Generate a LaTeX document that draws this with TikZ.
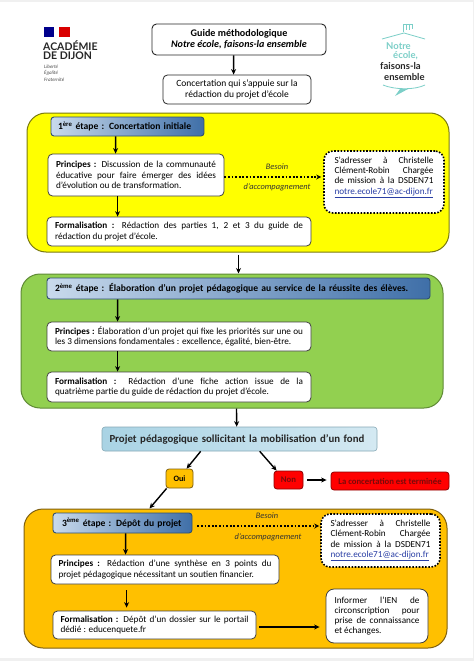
\documentclass[tikz,border=0pt]{standalone}
\usepackage{fontspec}
\setmainfont{Carlito}
\newfontfamily\logofont{Lato}
\usetikzlibrary{arrows.meta}
\hyphenpenalty=10000
\definecolor{yelP}{HTML}{FFFF00}
\definecolor{yelE}{HTML}{7A7A10}
\definecolor{grnP}{HTML}{92D050}
\definecolor{grnE}{HTML}{5F8A35}
\definecolor{orgP}{HTML}{FFC000}
\definecolor{orgE}{HTML}{7F6010}
\definecolor{hdE}{HTML}{2F4F70}
\definecolor{hdL}{HTML}{C9DAEC}
\definecolor{hdR}{HTML}{3F6FA8}
\definecolor{skyL}{HTML}{D4E9F2}
\definecolor{skyR}{HTML}{A9D3E4}
\definecolor{redF}{HTML}{FF0000}
\definecolor{redT}{HTML}{7A0A0A}
\definecolor{teal1}{HTML}{7CCFC8}
\definecolor{linkc}{HTML}{2A3FA5}
\definecolor{edgeg}{HTML}{F0F0F0}
\newcommand{\bx}[7]{%
  \pgfmathsetmacro\bxcx{(#2+#4)/2}%
  \pgfmathsetmacro\bxcy{(#3+#5)/2}%
  \pgfmathsetmacro\bxw{#4-#2}%
  \pgfmathsetmacro\bxh{#5-#3}%
  \node[#6,minimum width=\bxw pt,minimum height=\bxh pt] (#1) at (\bxcx,\bxcy) {#7};}
\newcommand{\bodyf}{\fontsize{9.2}{10.2}\selectfont}
\tikzset{
  panel/.style={rounded corners=19pt,line width=1pt,inner sep=0pt},
  basebox/.style={rounded corners=4.5pt,inner sep=0pt,font=\bodyf},
  whitebox/.style={basebox,fill=white,draw=black!75,line width=.8pt,align=justify},
  dotbox/.style={basebox,fill=white,draw=black,line width=1.6pt,dash pattern=on 1.6pt off 1.6pt,rounded corners=9pt,align=justify},
  headbox/.style={rounded corners=3pt,inner sep=0pt,draw=hdE,line width=.9pt,left color=hdL,right color=hdR,align=left,font=\fontsize{9.6}{11}\selectfont\bfseries},
  arr/.style={-{Stealth[length=5.5pt,width=5pt]},line width=1.4pt,black},
  dotarr/.style={-{Stealth[length=5pt,width=5pt]},line width=1.8pt,dash pattern=on 1.8pt off 1.8pt,black},
  noteitalic/.style={inner sep=0pt,font=\fontsize{8.4}{9}\selectfont\itshape,text=black!80},
  redbox/.style={rounded corners=3pt,inner sep=0pt,fill=redF,draw=red!55!black,line width=.8pt,text=redT,font=\fontsize{8.7}{9}\selectfont\bfseries},
  logotext/.style={inner sep=0pt,anchor=west,font=\logofont\bfseries\fontsize{10.5}{11}\selectfont,text=black!85},
  devise/.style={inner sep=0pt,anchor=west,font=\fontsize{5}{5}\selectfont\itshape,text=black!70},
  teamtext/.style={inner sep=0pt,anchor=west,font=\logofont\bfseries\fontsize{9.5}{10}\selectfont}
}
\begin{document}
\begin{tikzpicture}[x=1pt,y=-1pt]
\useasboundingbox (0,0) rectangle (474,661);
\fill[white] (0,0) rectangle (474,661);
\fill[edgeg] (0,0) rectangle (474,2);
\fill[edgeg] (0,658) rectangle (474,661);
\fill[edgeg] (472.5,0) rectangle (474,661);

% logo left
\fill[blue!55!black] (44,27) rectangle (54,37);
\fill[red!85!black] (59,27) rectangle (70,37);
\node[logotext] (acad) at (43,45.5) {ACADÉMIE};
\node[logotext] (dij) at (43,56) {DE DIJON};
\node[devise] (d1) at (44,66.5) {Liberté};
\node[devise] (d2) at (44,73) {Égalité};
\node[devise] (d3) at (44,80) {Fraternité};

% logo right
\draw[teal1,line width=.8pt] (382,39) -- (404,33) -- (425,39);
\draw[teal1,line width=.7pt] (403,32) -- (403,24) -- (412,24) -- (412,29) (406,24) -- (406,30) (409,24) -- (409,30);
\node[teamtext,text=teal1] (lg1) at (386,46) {Notre};
\node[teamtext,text=teal1] (lg2) at (393,56) {école,};
\node[teamtext,text=black!85] (lg3) at (380,66.5) {faisons-la};
\node[teamtext,text=black!85] (lg4) at (384,77) {ensemble};
\draw[teal1,line width=.8pt] (383,85) .. controls (395,90) and (415,90) .. (425,85);
\fill[teal1] (395,96) -- (408,89) -- (400,89) -- cycle;

% top
\bx{guide}{152}{24}{326}{55}{basebox,fill=white,draw=black!85,line width=.9pt,align=center,font=\fontsize{10.1}{11}\selectfont}{\textbf{Guide méthodologique}\\\textbf{\textit{Notre école, faisons-la ensemble}}}
\bx{conc}{163}{75}{311}{104}{basebox,fill=white,draw=black!85,line width=.8pt,align=center,font=\fontsize{9.5}{10.2}\selectfont}{Concertation qui s’appuie sur la\\rédaction du projet d’école}
\draw[arr] ([xshift=82pt]guide.south west) -- ([xshift=71pt]conc.north west);

% panels
\bx{yel}{27}{113}{449}{252}{panel,fill=yelP,draw=yelE}{}
\bx{grn}{21}{274}{443}{408}{panel,fill=grnP,draw=grnE}{}
\bx{org}{24}{509}{447}{648}{panel,fill=orgP,draw=orgE}{}

% step 1
\bx{h1}{51}{117}{204}{136}{headbox,text width=139pt}{1\textsuperscript{ère} étape : Concertation initiale}
\bx{p1}{48}{154}{224}{196}{whitebox,text width=160pt}{\textbf{Principes :} Discussion de la communauté\linebreak éducative pour faire émerger des idées\linebreak d’évolution ou de transformation.}
\bx{f1}{47}{217}{311}{246}{whitebox,text width=248pt}{\textbf{Formalisation :} Rédaction des parties 1, 2 et 3 du guide de\linebreak rédaction du projet d’école.}
\bx{s1}{324}{151}{444}{213}{dotbox,text width=99pt}{\parbox[c][50pt][t]{99pt}{\bodyf S’adresser à Christelle\linebreak Clément-Robin Chargée\linebreak de mission à la DSDEN71\linebreak \textcolor{linkc}{\underline{notre.ecole71@ac-dijon.fr}}}}
\draw[arr] ([xshift=65pt]h1.south west) -- ([xshift=68pt]p1.north west);
\draw[arr] ([xshift=70pt]p1.south west) -- ([xshift=71pt]f1.north west);
\draw[dotarr] ([yshift=-2pt]p1.east) -- ([yshift=5pt,xshift=-2pt]s1.west);
\node[noteitalic] (b1) at (277,167) {Besoin};
\node[noteitalic] (a1) at (277,187) {d’accompagnement};

% step 2
\bx{h2}{47}{278}{430}{299}{headbox,text width=367pt}{2\textsuperscript{ème} étape : Élaboration d’un projet pédagogique au service de la réussite des élèves.}
\bx{p2}{47}{322}{311}{351}{whitebox,text width=248pt}{\textbf{Principes :} Élaboration d’un projet qui fixe les priorités sur une ou\linebreak les 3 dimensions fondamentales : excellence, égalité, bien-être.}
\bx{f2}{47}{372}{311}{402}{whitebox,text width=248pt}{\textbf{Formalisation :} Rédaction d’une fiche action issue de la\linebreak quatrième partie du guide de rédaction du projet d’école.}
\draw[arr] ([xshift=71pt]h2.south west) -- ([xshift=71pt]p2.north west);
\draw[arr] ([xshift=71pt]p2.south west) -- ([xshift=71pt]f2.north west);
\draw[arr,shorten <=2pt] ([xshift=212pt]yel.south west) -- ([xshift=218pt]grn.north west);

% decision
\bx{proj}{102}{427}{377}{451}{rounded corners=3pt,inner sep=0pt,draw=skyR!80!black,line width=.6pt,left color=skyR,right color=skyL,align=left,text width=260pt,font=\fontsize{10.8}{12}\selectfont\bfseries,text=black!85}{Projet pédagogique sollicitant la mobilisation d’un fond}
\bx{oui}{166}{469}{193}{488}{rounded corners=3pt,inner sep=0pt,fill=orgP,draw=orgE,line width=.8pt,font=\fontsize{8.2}{10}\selectfont\bfseries}{Oui}
\bx{non}{274}{471}{303}{489}{redbox}{Non}
\bx{fin}{331}{472}{449}{490}{redbox}{La concertation est terminée}
\draw[arr] ([xshift=216pt]grn.south west) -- ([xshift=135pt]proj.north west);
\draw[arr] ([xshift=99pt]proj.south west) -- ([xshift=21pt]oui.north west);
\draw[arr] ([xshift=158pt]proj.south west) -- ([xshift=3pt]non.north west);
\draw[arr] ([xshift=4pt]non.east) -- ([xshift=-4pt,yshift=1pt]fin.west);
\draw[arr] ([xshift=1pt]oui.south west) -- ([xshift=126pt]org.north west);

% step 3
\bx{h3}{53}{513}{192}{533}{headbox,text width=121pt}{3\textsuperscript{ème} étape : Dépôt du projet}
\bx{p3}{51}{555}{279}{584}{whitebox,text width=213pt}{\textbf{Principes :} Rédaction d’une synthèse en 3 points du\linebreak projet pédagogique nécessitant un soutien financier.}
\bx{f3}{53}{611}{256}{639}{whitebox,text width=188pt}{\textbf{Formalisation :} Dépôt d’un dossier sur le portail\linebreak dédié : educenquete.fr}
\bx{s3}{321}{514}{440}{567}{dotbox,text width=100pt}{S’adresser à Christelle\linebreak Clément-Robin Chargée\linebreak de mission à la DSDEN71\linebreak \textcolor{linkc}{\underline{notre.ecole71@ac-dijon.fr}}}
\bx{i3}{326}{589}{428}{643}{whitebox,rounded corners=8pt,text width=85pt}{Informer l’IEN de\linebreak circonscription pour\linebreak prise de connaissance\linebreak et échanges.}
\draw[dotarr] ([xshift=5pt,yshift=-3pt]h3.east) -- ([xshift=-1pt,yshift=14.5pt]s3.west);
\draw[arr] ([xshift=73pt]h3.south west) -- ([xshift=75pt]p3.north west);
\draw[arr,shorten <=6pt] ([xshift=76pt]p3.south west) -- ([xshift=74pt,yshift=3pt]f3.north west);
\draw[arr] ([xshift=3pt,yshift=-2pt]f3.east) -- ([xshift=-6pt,yshift=-11pt]i3.west);
\node[noteitalic] (b3) at (267,516) {Besoin};
\node[noteitalic] (a3) at (268,537) {d’accompagnement};
\end{tikzpicture}
\end{document}
